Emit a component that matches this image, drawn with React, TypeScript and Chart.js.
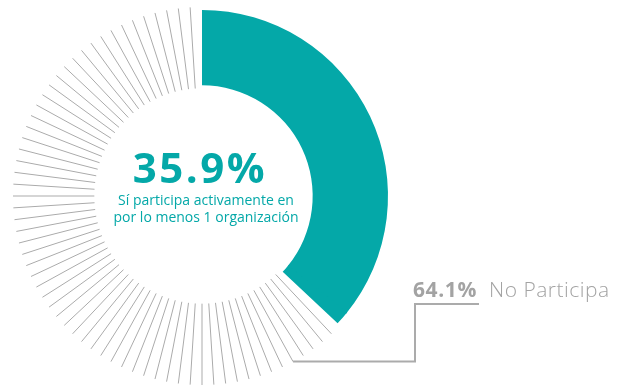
import React, { useEffect, useRef } from "react";
import { Chart, registerables } from "chart.js";

Chart.register(...registerables);

const categories = ["Sí participa activamente en por lo menos 1 organización", "No Participa"];
const values = [35.9, 64.1];
const centerValueLabel = "35.9%";
const centerLines = ["Sí participa activamente en", "por lo menos 1 organización"];
const sideValueLabel = "64.1%";
const sideNameLabel = "No Participa";

const TEAL = "#04a8a8";
const GRAY = "#ababab";
const TEXT_GRAY = "#a3a3a3";
const TICKS_PER_CIRCLE = 100;
const LEADER_TICK = 42;
const FONT = "'Open Sans', 'DejaVu Sans', sans-serif";

const hatchPlugin = {
  id: "hatch",
  afterDatasetsDraw(chart: any) {
    const ctx = chart.ctx as CanvasRenderingContext2D;
    const meta = chart.getDatasetMeta(0);
    const arc0 = meta.data[0] as any;
    const arc = meta.data[1] as any;
    if (!arc || !arc0) return;
    const { x, y, startAngle, endAngle, innerRadius, outerRadius } = arc.getProps(
      ["x", "y", "startAngle", "endAngle", "innerRadius", "outerRadius"],
      true
    );
    const step = (Math.PI * 2) / TICKS_PER_CIRCLE;
    const base = -Math.PI / 2;

    // teal arc snapped to tick grid (design draws whole ticks)
    const a0 = arc0.getProps(["startAngle", "endAngle"], true);
    const snapped = base + (Math.ceil((a0.endAngle - base) / step - 1e-6) + 1) * step;
    ctx.save();
    ctx.fillStyle = TEAL;
    ctx.beginPath();
    ctx.arc(x, y, outerRadius, a0.endAngle - 0.01, snapped);
    ctx.arc(x, y, innerRadius, snapped, a0.endAngle - 0.01, true);
    ctx.closePath();
    ctx.fill();

    const r1 = innerRadius - 3;
    const r2 = outerRadius + 3;
    ctx.strokeStyle = GRAY;
    ctx.lineWidth = 1;
    for (let k = 0; k < TICKS_PER_CIRCLE; k++) {
      const a = base + k * step;
      if (a < startAngle + 2 * step - 1e-6 || a > endAngle - 0.5 * step) continue;
      ctx.beginPath();
      ctx.moveTo(x + r1 * Math.cos(a), y + r1 * Math.sin(a));
      ctx.lineTo(x + r2 * Math.cos(a), y + r2 * Math.sin(a));
      ctx.stroke();
    }

    // leader line
    const la = base + LEADER_TICK * step;
    const lx = x + r2 * Math.cos(la);
    const ly = y + r2 * Math.sin(la);
    const elbowX = x + 213;
    const topY = y + 108;
    const endX = x + 277;
    ctx.strokeStyle = GRAY;
    ctx.lineWidth = 2;
    ctx.beginPath();
    ctx.moveTo(lx, ly);
    ctx.lineTo(elbowX, ly);
    ctx.lineTo(elbowX, topY);
    ctx.lineTo(endX, topY);
    ctx.stroke();

    // side label
    ctx.textBaseline = "alphabetic";
    ctx.textAlign = "left";
    ctx.fillStyle = TEXT_GRAY;
    (ctx as any).letterSpacing = "0.6px";
    ctx.font = `bold 21px ${FONT}`;
    ctx.fillText(sideValueLabel, x + 211, y + 101);
    (ctx as any).letterSpacing = "0.5px";
    ctx.font = `300 21px ${FONT}`;
    ctx.fillText(sideNameLabel, x + 287, y + 101);

    // center text
    ctx.textAlign = "center";
    ctx.fillStyle = TEAL;
    (ctx as any).letterSpacing = "2.5px";
    ctx.font = `bold 42px ${FONT}`;
    ctx.fillText(centerValueLabel, x - 2, y - 13);
    (ctx as any).letterSpacing = "0px";
    ctx.font = `14px ${FONT}`;
    ctx.fillText(centerLines[0], x + 4, y + 9);
    ctx.fillText(centerLines[1], x + 4, y + 26);
    ctx.restore();
  },
};

export default function App() {
  const ref = useRef<HTMLCanvasElement>(null);
  useEffect(() => {
    document.body.style.margin = "0";
    const canvas = ref.current;
    if (!canvas) return;
    const chart = new Chart(canvas, {
      type: "doughnut",
      data: {
        labels: categories,
        datasets: [
          {
            data: values,
            backgroundColor: [TEAL, "rgba(0,0,0,0)"],
            borderWidth: 0,
            hoverOffset: 0,
          },
        ],
      },
      options: {
        responsive: false,
        animation: false,
        cutout: "59.5%",
        layout: { padding: { left: 16, right: 234, top: 10, bottom: 4 } },
        plugins: {
          legend: { display: false },
          tooltip: { enabled: false },
        },
      },
      plugins: [hatchPlugin],
    });
    return () => chart.destroy();
  }, []);
  return <canvas ref={ref} width={622} height={386} style={{ display: "block" }} />;
}
